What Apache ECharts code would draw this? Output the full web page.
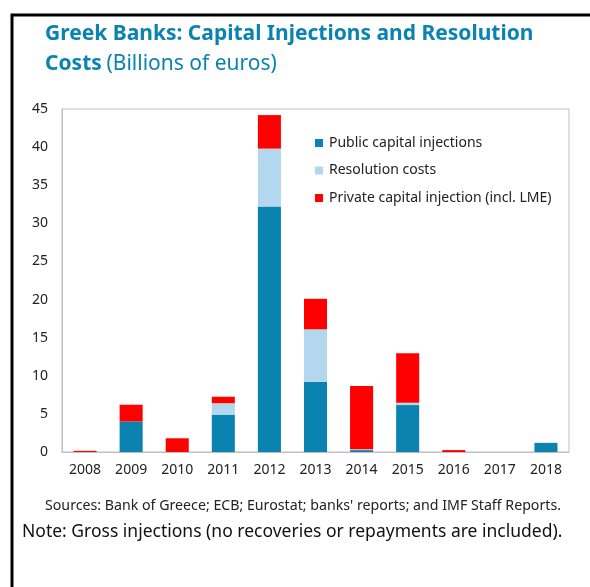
<!DOCTYPE html>
<html><head><meta charset="utf-8">
<script src="https://cdn.jsdelivr.net/npm/echarts@6/dist/echarts.min.js"></script>
<style>html,body{margin:0;padding:0;background:#fff}#c{width:590px;height:587px}</style>
</head><body><div id="c"></div>
<script>
const years = ['2008','2009','2010','2011','2012','2013','2014','2015','2016','2017','2018'];
const publicInj = [0, 4.0, 0, 4.9, 32.2, 9.2, 0.25, 6.15, 0, 0, 1.2];
const resolution = [0, 0, 0, 1.5, 7.6, 6.9, 0.1, 0.3, 0, 0, 0];
const privateInj = [0.15, 2.2, 1.8, 0.85, 4.4, 4.0, 8.3, 6.5, 0.25, 0, 0];
const seriesNames = ['Public capital injections', 'Resolution costs', 'Private capital injection (incl. LME)'];
const colors = ['#0b83b0', '#b3d7ee', '#ff0000'];
const yTicks = [0, 5, 10, 15, 20, 25, 30, 35, 40, 45];

const FONT = '"Noto Sans", "Open Sans", sans-serif';
const chart = echarts.init(document.getElementById('c'), null, {renderer: 'canvas'});
chart.setOption({
  animation: false,
  textStyle: {fontFamily: FONT},
  color: colors,
  title: {
    left: 40, top: 14,
    text: '{b|Greek Banks: Capital Injections and Resolution}\n{b|Costs} {n|(Billions of euros)}',
    textStyle: {
      rich: {
        b: {fontFamily: FONT, fontWeight: 'bold', fontSize: 21, color: '#0b83b0', lineHeight: 30},
        n: {fontFamily: FONT, fontWeight: 'normal', fontSize: 21, color: '#0b83b0', lineHeight: 30}
      }
    }
  },
  legend: {
    orient: 'vertical', left: 310, top: 131,
    itemWidth: 8, itemHeight: 8, itemGap: 13.5, icon: 'rect',
    textStyle: {fontSize: 14, color: '#222', fontFamily: FONT, padding: [0,0,0,1]},
    data: seriesNames
  },
  grid: {left: 62, top: 109, right: 21, bottom: 135, show: true, borderColor: '#bfbfbf', borderWidth: 1},
  xAxis: {
    type: 'category', data: years,
    axisLine: {lineStyle: {color: '#bfbfbf'}},
    axisTick: {show: false},
    axisLabel: {color: '#222', fontSize: 14, margin: 11, fontFamily: FONT}
  },
  yAxis: {
    type: 'value', min: yTicks[0], max: yTicks[yTicks.length-1], interval: 5,
    axisLine: {show: true, lineStyle: {color: '#bfbfbf'}},
    axisTick: {show: false},
    splitLine: {show: false},
    axisLabel: {color: '#222', fontSize: 14, margin: 14, fontFamily: FONT}
  },
  series: [
    {name: seriesNames[0], type: 'bar', stack: 's', data: publicInj, barWidth: '50%'},
    {name: seriesNames[1], type: 'bar', stack: 's', data: resolution, barWidth: '50%'},
    {name: seriesNames[2], type: 'bar', stack: 's', data: privateInj, barWidth: '50%'}
  ],
  graphic: [
    {type: 'rect', shape: {x: 12, y: 15, width: 700, height: 700}, style: {fill: 'none', stroke: '#000', lineWidth: 3}, silent: true},
    {type: 'text', left: 45, top: 499, style: {text: "Sources: Bank of Greece; ECB; Eurostat; banks' reports; and IMF Staff Reports.", fontSize: 14.2, fill: '#222', fontFamily: FONT}},
    {type: 'text', left: 22, top: 523, style: {text: 'Note: Gross injections (no recoveries or repayments are included).', fontSize: 17.5, fill: '#111', fontFamily: FONT}}
  ]
});
</script></body></html>
